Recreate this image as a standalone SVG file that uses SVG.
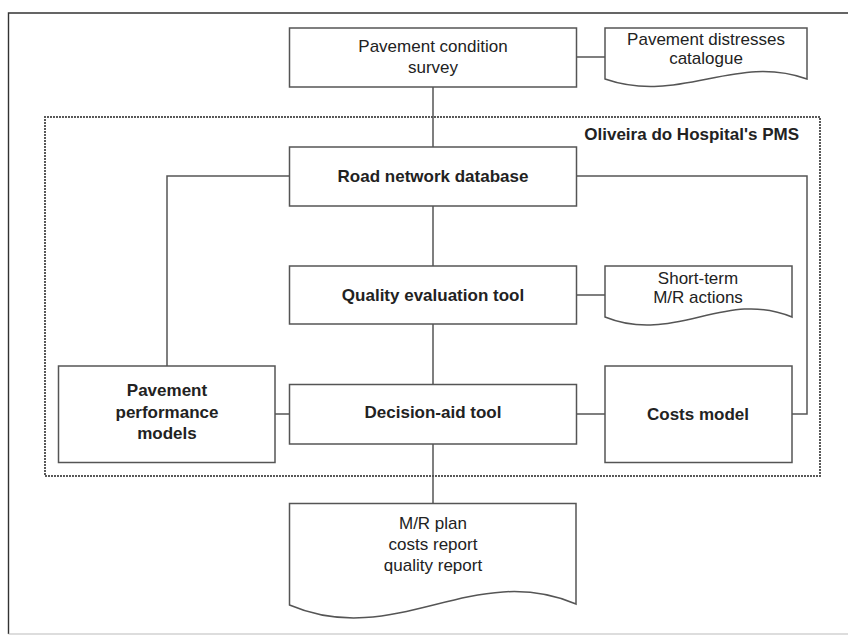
<svg xmlns="http://www.w3.org/2000/svg" width="848" height="637" viewBox="0 0 848 637">
<style>
.box{fill:#fff;stroke:#555;stroke-width:1.5}
.ln{fill:none;stroke:#555;stroke-width:1.5}
.t{font-family:"Liberation Sans",Arial,sans-serif;font-size:17px;fill:#222;text-anchor:middle}
.b{font-weight:bold}
</style>
<rect width="848" height="637" fill="#fff"/>
<path d="M848,13 H8.5 V634" fill="none" stroke="#333" stroke-width="1.4"/>
<path d="M8.5,634 H848" fill="none" stroke="#bbb" stroke-width="1.2"/>
<g id="pms-frame">
<rect x="45" y="117" width="775" height="359" fill="none" stroke="#222" stroke-width="2" stroke-dasharray="0 3" stroke-linecap="round"/>
<text class="t b" x="799" y="140" style="text-anchor:end">Oliveira do Hospital's PMS</text>
</g>
<g id="connectors">
<path class="ln" d="M433,87 V147"/>
<path class="ln" d="M576,57 H605"/>
<path class="ln" d="M289,176 H167 V366"/>
<path class="ln" d="M576,176 H807 V414 H792"/>
<path class="ln" d="M433,206 V266"/>
<path class="ln" d="M576,295 H605"/>
<path class="ln" d="M433,324 V384"/>
<path class="ln" d="M275,414 H289"/>
<path class="ln" d="M576,414 H605"/>
<path class="ln" d="M433,444 V503"/>
</g>
<g id="survey">
<rect class="box" x="289.5" y="28" width="287" height="59"/>
<text class="t" x="433" y="52">Pavement condition</text>
<text class="t" x="433" y="73">survey</text>
</g>
<g id="catalogue">
<path class="box" d="M605,79 V28 H807 V79 C735,53 680,105 605,79 Z"/>
<text class="t" x="706" y="45">Pavement distresses</text>
<text class="t" x="706" y="63.5">catalogue</text>
</g>
<g id="road-network">
<rect class="box" x="289.5" y="147" width="287" height="59"/>
<text class="t b" x="433" y="182">Road network database</text>
</g>
<g id="quality">
<rect class="box" x="289.5" y="266" width="287" height="58"/>
<text class="t b" x="433" y="300.5">Quality evaluation tool</text>
</g>
<g id="short-term">
<path class="box" d="M605,317 V266 H792 V317 C725,289 674,345 605,317 Z"/>
<text class="t" x="698" y="283.5">Short-term</text>
<text class="t" x="698" y="302.5">M/R actions</text>
</g>
<g id="performance">
<rect class="box" x="58.5" y="366" width="216.5" height="96.5"/>
<text class="t b" x="167" y="396">Pavement</text>
<text class="t b" x="167" y="417.5">performance</text>
<text class="t b" x="167" y="439">models</text>
</g>
<g id="decision">
<rect class="box" x="289.5" y="384.5" width="287" height="59.5"/>
<text class="t b" x="433" y="417.5">Decision-aid tool</text>
</g>
<g id="costs">
<rect class="box" x="605" y="366" width="187" height="96.5"/>
<text class="t b" x="698" y="420">Costs model</text>
</g>
<g id="report">
<path class="box" d="M289.5,605 V503.5 H576 V604 C473,560 395,650 289.5,605 Z"/>
<text class="t" x="433" y="528.5">M/R plan</text>
<text class="t" x="433" y="550">costs report</text>
<text class="t" x="433" y="571">quality report</text>
</g>
</svg>
